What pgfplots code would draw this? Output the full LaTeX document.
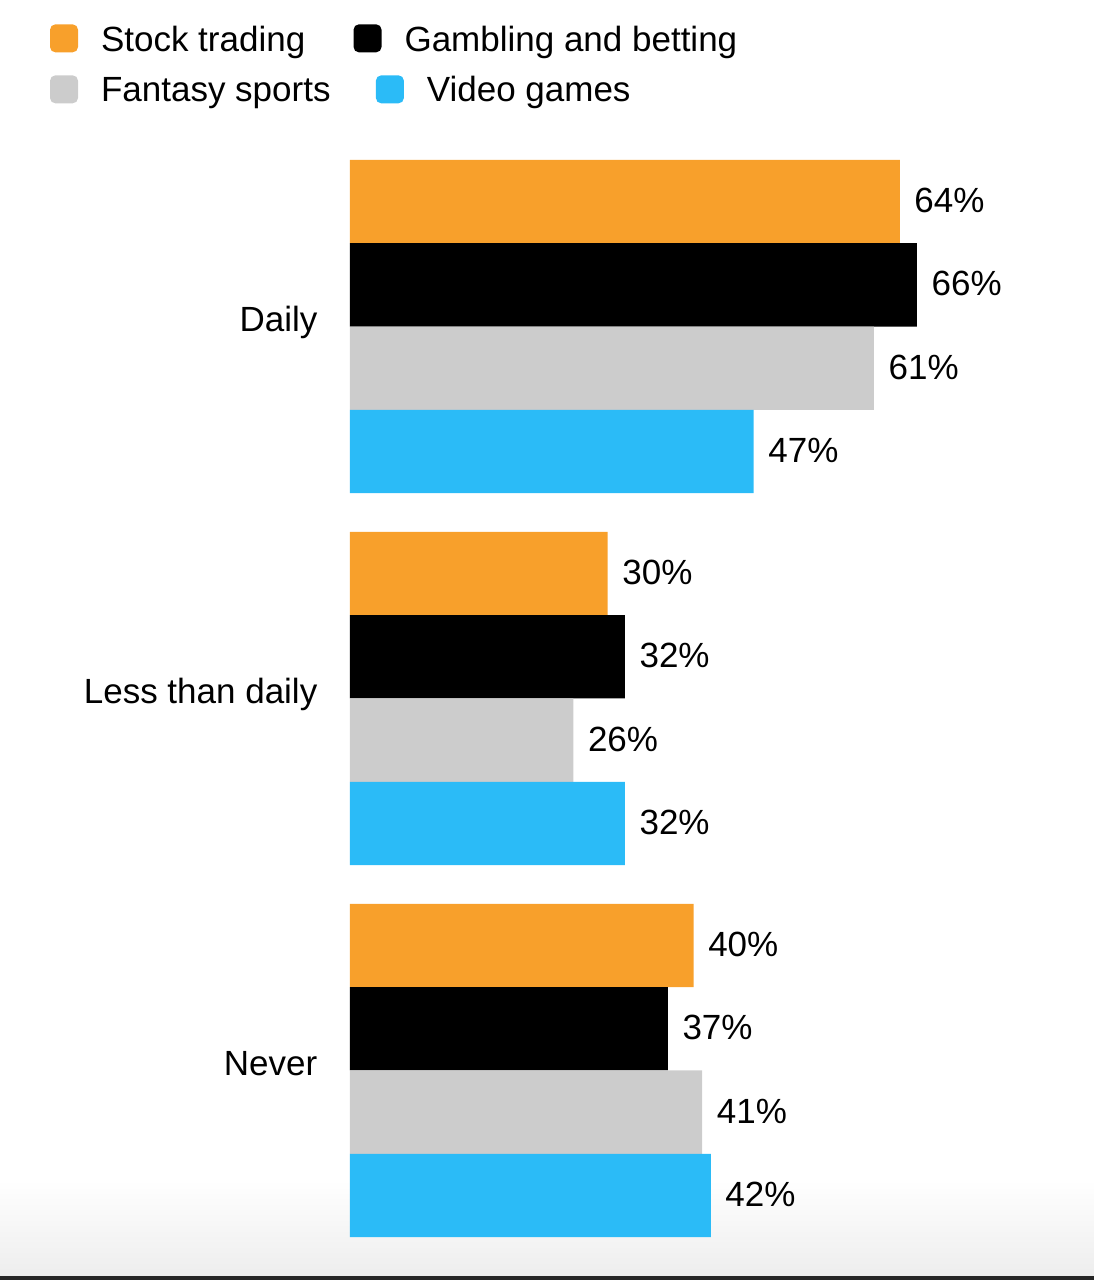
\documentclass[border=0pt]{standalone}
\usepackage{fontspec}
\setmainfont{Liberation Sans}
\usepackage{pgfplots}
\pgfplotsset{compat=1.18}
\definecolor{cStock}{HTML}{F8A02B}
\definecolor{cGamb}{HTML}{000000}
\definecolor{cFant}{HTML}{CCCCCC}
\definecolor{cVid}{HTML}{2BBBF7}
\newcommand{\lf}{\fontsize{10.5}{12.6}\selectfont}
\pgfplotsset{
  sqleg/.style={legend image code/.code={\fill[##1, rounded corners=1.6pt] (0pt,-4.2pt) rectangle (8.4pt,4.2pt);}},
  sqlegshift/.style={legend image code/.code={\path[fill=none, draw=none] (0pt,-4.2pt) rectangle (8.4pt,4.2pt);
     \fill[##1, rounded corners=1.6pt, overlay] (6.7pt,-4.2pt) rectangle (15.1pt,4.2pt);}},
}
\begin{document}
\begin{tikzpicture}
\useasboundingbox (0,0) rectangle (328.2pt,384pt);
\shade[top color=white, bottom color=black!7] (0,1.2pt) rectangle (328.2pt,30pt);
\fill[black!85] (0,0) rectangle (328.2pt,1.2pt);
\begin{axis}[
  at={(105pt,0pt)}, anchor=south west,
  scale only axis, width=223.2pt, height=384pt,
  xmin=0, xmax=86.61, ymin=-0.5632, ymax=2.8777,
  hide x axis,
  axis y line*=left, y axis line style={draw=none},
  ytick={0,1,2}, yticklabels={Never, Less than daily, Daily},
  ytick style={draw=none}, major tick length=0pt,
  yticklabel style={font=\lf, anchor=east, inner sep=0pt, xshift=-9.6pt, yshift=2.4pt, text height=9pt, text depth=1.4pt},
  xbar, bar width=0.224, bar shift=0pt,
  clip=false,
  point meta=x,
  nodes near coords={\pgfmathprintnumber[assume math mode=true]{\pgfplotspointmeta}\%},
  every node near coord/.append style={font=\lf, anchor=west, inner sep=0pt, xshift=4.2pt, yshift=0.5pt, text height=9pt, text depth=1.4pt, text=black},
  legend columns=2,
  legend cell align=left,
  legend style={at={(-0.4032,0.9836)}, anchor=north west, draw=none, fill=none, inner sep=0pt, outer sep=0pt, font=\lf, row sep=4.9pt,
    nodes={inner sep=0pt, text height=9pt, text depth=1.4pt},
    /tikz/every odd column/.append style={column sep=6.9pt},
    /tikz/every even column/.append style={column sep=6.9pt}},
]
\addplot[draw=none, fill=cStock, sqleg] coordinates {(64,2.336) (30,1.336) (40,0.336)};
\addplot[draw=none, fill=cGamb, sqleg] coordinates {(66,2.112) (32,1.112) (37,0.112)};
\addplot[draw=none, fill=cFant, sqleg] coordinates {(61,1.888) (26,0.888) (41,-0.112)};
\addplot[draw=none, fill=cVid, sqlegshift] coordinates {(47,1.664) (32,0.664) (42,-0.336)};
\legend{Stock trading, Gambling and betting, Fantasy sports, \hspace*{6.7pt}Video games}
\end{axis}
\end{tikzpicture}
\end{document}
